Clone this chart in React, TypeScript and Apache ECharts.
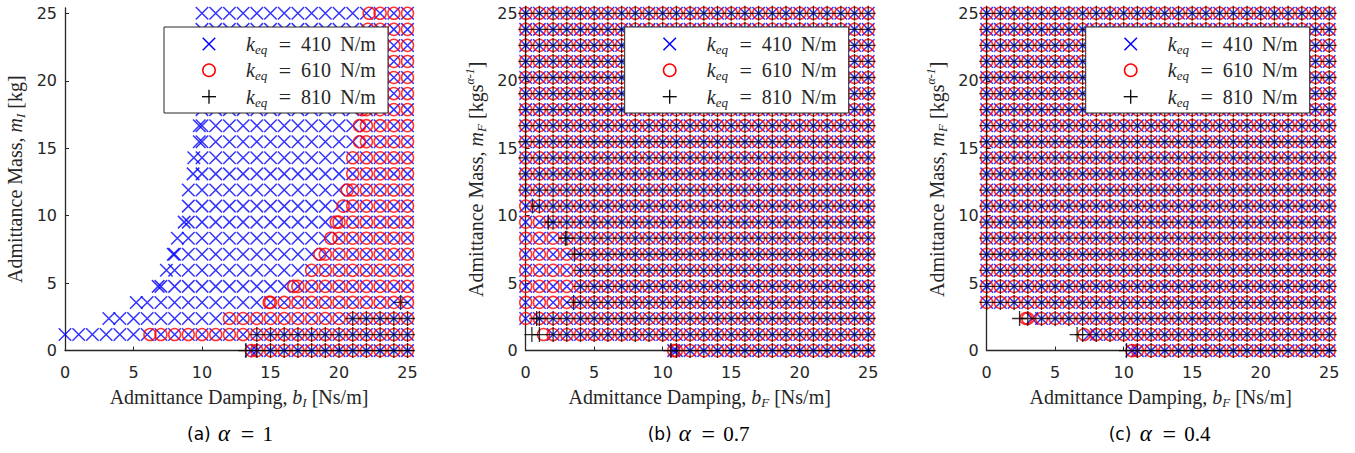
import React, { useEffect, useRef } from 'react';
import * as echarts from 'echarts';

// ---------- data ----------
// admittance mass levels (rows of the stability grid)
const MASS_LEVELS = [0, 1.19, 2.38, 3.57, 4.76, 5.95, 7.14, 8.33, 9.52, 10.71, 11.9, 13.1, 14.29, 15.48, 16.67, 17.86, 19.05, 20.24, 21.43, 22.62, 23.81, 25];
// admittance damping grid (columns)
const DAMPING_GRID = [0, 1, 2, 3, 4, 5, 6, 7, 8, 9, 10, 11, 12, 13, 14, 15, 16, 17, 18, 19, 20, 21, 22, 23, 24, 25];
const TICKS = [0, 5, 10, 15, 20, 25];
const K_EQ = ['410', '610', '810'];

// first stable damping value of each mass row (null = no stable point)
// (a) alpha = 1
const A_START_410 = [13.6, 0, 3.2, 5.2, 6.8, 7.4, 7.9, 8.2, 8.7, 9.0, 9.0, 9.35, 9.4, 9.8, 9.8, 10, 10, 10, 10, 10, 10, 10];
const A_START_610 = [13.6, 6.2, 12, 14.9, 16.7, 18, 18.6, 19.4, 19.8, 20.3, 20.6, 21, 21, 21.5, 21.5, 21.7, 21.8, 21.9, 22, 22.1, 22.1, 22.2];
const A_START_810 = [13.2, 14, 21, 24.5, null, null, null, null, null, null, null, null, null, null, null, null, null, null, null, null, null, null];
const A_END_810 = [25, 25, 25, 24.5, 25, 25, 25, 25, 25, 25, 25, 25, 25, 25, 25, 25, 25, 25, 25, 25, 25, 25];
// (b) alpha = 0.7
const B_START_410 = [10.8, 2, 0, 0, 0, 0, 0, 0, 0, 0, 0, 0, 0, 0, 0, 0, 0, 0, 0, 0, 0, 0];
const B_START_610 = [10.8, 1.3, 0, 0, 0, 0, 0, 0, 0, 0, 0, 0, 0, 0, 0, 0, 0, 0, 0, 0, 0, 0];
const B_START_810 = [10.6, 0.45, 0.8, 3.5, 4, 4, 3.55, 2.9, 1.65, 0.5, 0, 0, 0, 0, 0, 0, 0, 0, 0, 0, 0, 0];
// (c) alpha = 0.4
const C_START_410 = [10.6, 7.5, 3.3, 0, 0, 0, 0, 0, 0, 0, 0, 0, 0, 0, 0, 0, 0, 0, 0, 0, 0, 0];
const C_START_610 = [10.6, 7.1, 2.85, 0, 0, 0, 0, 0, 0, 0, 0, 0, 0, 0, 0, 0, 0, 0, 0, 0, 0, 0];
const C_START_810 = [10.2, 6.6, 2.4, 0, 0, 0, 0, 0, 0, 0, 0, 0, 0, 0, 0, 0, 0, 0, 0, 0, 0, 0];

// ---------- styling ----------
const INK = '#262626';
const SERIF = 'Liberation Serif, Times New Roman, serif';
const SANS = 'DejaVu Sans, sans-serif';
const X_PATH = 'path://M0,0L10,10M10,0L0,10';
const PLUS_PATH = 'path://M5,0L5,10M0,5L10,5';
const BLUE = '#0000ff';
const RED = '#ff0000';
const BLACK = '#000000';

const MARKERS = [
  { symbol: X_PATH, size: 12.5, itemStyle: { color: BLUE, borderColor: BLUE, borderWidth: 1.5 } },
  { symbol: 'circle', size: 12, itemStyle: { color: 'rgba(0,0,0,0)', borderColor: RED, borderWidth: 1.5 } },
  { symbol: PLUS_PATH, size: 15, itemStyle: { color: BLACK, borderColor: BLACK, borderWidth: 1.3 } },
];

const PANELS = [
  { left: 65, sub: 'I', unit: 'kg', starts: [A_START_410, A_START_610, A_START_810], ends: [null, null, A_END_810], cap: '(a)', alpha: '1' },
  { left: 525.7, sub: 'F', unit: 'frac', starts: [B_START_410, B_START_610, B_START_810], ends: [null, null, null], cap: '(b)', alpha: '0.7' },
  { left: 986.7, sub: 'F', unit: 'frac', starts: [C_START_410, C_START_610, C_START_810], ends: [null, null, null], cap: '(c)', alpha: '0.4' },
];

function buildPoints(starts: (number | null)[], ends: number[] | null) {
  const pts: number[][] = [];
  starts.forEach((s, i) => {
    if (s === null) return;
    const m = MASS_LEVELS[i];
    const e = ends ? ends[i] : 25;
    pts.push([s, m]);
    DAMPING_GRID.forEach((d) => {
      if (d > s + 1e-6 && d <= e + 1e-6) pts.push([d, m]);
    });
  });
  return pts;
}

const nameRich = {
  t: { fontFamily: SERIF, fontSize: 20, lineHeight: 24, color: INK },
  i: { fontFamily: SERIF, fontSize: 20, fontStyle: 'italic', lineHeight: 24, color: INK },
  s: { fontFamily: SERIF, fontSize: 13, fontStyle: 'italic', lineHeight: 13, verticalAlign: 'bottom', color: INK },
  p: { fontFamily: SERIF, fontSize: 12, fontStyle: 'italic', lineHeight: 12, verticalAlign: 'top', color: INK },
};

const legendRich = {
  k: { fontFamily: SERIF, fontSize: 20, fontStyle: 'italic', lineHeight: 24, width: 9, color: INK },
  s: { fontFamily: SERIF, fontSize: 13, fontStyle: 'italic', lineHeight: 13, verticalAlign: 'bottom', width: 18, color: INK },
  e: { fontFamily: SERIF, fontSize: 22, lineHeight: 24, width: 24, align: 'center', color: INK },
  n: { fontFamily: SERIF, fontSize: 20, lineHeight: 24, width: 38, align: 'center', color: INK },
  u: { fontFamily: SERIF, fontSize: 20, lineHeight: 24, width: 46, align: 'left', color: INK },
};

const capRich = {
  s: { fontFamily: SANS, fontSize: 17, width: 31, lineHeight: 26, color: '#000' },
  a: { fontFamily: SERIF, fontSize: 23, fontStyle: 'italic', width: 14.5, lineHeight: 26, color: '#000' },
  e: { fontFamily: SERIF, fontSize: 24, width: 30, align: 'center', lineHeight: 26, color: '#000' },
  n: { fontFamily: SERIF, fontSize: 21, lineHeight: 26, color: '#000' },
};

const TOP_Z = 100;

function legendIcon(si: number, cx: number, cy: number) {
  if (si === 0) {
    const h = 6.25;
    return [
      { type: 'line', z: TOP_Z, shape: { x1: cx - h, y1: cy - h, x2: cx + h, y2: cy + h }, style: { stroke: BLUE, lineWidth: 1.5 } },
      { type: 'line', z: TOP_Z, shape: { x1: cx - h, y1: cy + h, x2: cx + h, y2: cy - h }, style: { stroke: BLUE, lineWidth: 1.5 } },
    ];
  }
  if (si === 1) {
    return [{ type: 'circle', z: TOP_Z, shape: { cx, cy, r: 6.2 }, style: { fill: 'none', stroke: RED, lineWidth: 1.5 } }];
  }
  const h = 7;
  return [
    { type: 'line', z: TOP_Z, shape: { x1: cx - h, y1: cy, x2: cx + h, y2: cy }, style: { stroke: BLACK, lineWidth: 1.3 } },
    { type: 'line', z: TOP_Z, shape: { x1: cx, y1: cy - h, x2: cx, y2: cy + h }, style: { stroke: BLACK, lineWidth: 1.3 } },
  ];
}

function buildLegend(left: number) {
  const x0 = left + 99;
  const rowsY = [44, 70.3, 96.7];
  const els: any[] = [
    { type: 'rect', z: TOP_Z - 1, shape: { x: x0, y: 27, width: 224, height: 86 }, style: { fill: '#ffffff', stroke: INK, lineWidth: 1 } },
  ];
  K_EQ.forEach((k, si) => {
    const cy = rowsY[si];
    els.push(...legendIcon(si, left + 144, cy));
    els.push({
      type: 'text',
      z: TOP_Z,
      x: left + 181,
      y: cy,
      style: {
        text: `{k|k}{s|eq}{e|=}{n|${k}}{u|N/m}`,
        rich: legendRich,
        fontFamily: SERIF,
        fontSize: 20,
        fill: INK,
        verticalAlign: 'middle',
        align: 'left',
      },
    });
  });
  return els;
}

function buildOption() {
  const top = 7.9;
  const height = 342.7;
  const width = 348;
  const series: any[] = [];
  PANELS.forEach((p, gi) => {
    K_EQ.forEach((k, si) => {
      const mk = MARKERS[si];
      series.push({
        type: 'scatter',
        name: k,
        xAxisIndex: gi,
        yAxisIndex: gi,
        symbol: mk.symbol,
        symbolSize: mk.size,
        itemStyle: mk.itemStyle,
        data: buildPoints(p.starts[si], p.ends[si]),
        clip: false,
        silent: true,
        progressive: 0,
        z: 2 + si,
      });
    });
  });
  const graphic: any[] = [];
  PANELS.forEach((p) => {
    graphic.push(...buildLegend(p.left));
    graphic.push({
      type: 'text',
      x: p.left + 122,
      y: 433.5,
      z: TOP_Z,
      style: {
        text: `{s|${p.cap}}{a|α}{e|=}{n|${p.alpha}}`,
        rich: capRich,
        fontFamily: SERIF,
        fontSize: 21,
        fill: '#000',
        verticalAlign: 'middle',
        align: 'left',
      },
    });
  });
  return {
    animation: false,
    backgroundColor: '#ffffff',
    grid: PANELS.map((p) => ({ left: p.left, top, width, height, containLabel: false, outerBoundsMode: 'none' })),
    xAxis: PANELS.map((p, i) => ({
      gridIndex: i,
      type: 'value',
      min: 0,
      max: 25.4,
      name: `{t|Admittance Damping, }{i|b}{s|${p.sub}}{t| [Ns/m]}`,
      nameLocation: 'middle',
      nameGap: 34,
      nameTextStyle: { color: INK, fontFamily: SERIF, fontSize: 20, rich: nameRich },
      axisLine: { show: true, onZero: false, lineStyle: { color: INK, width: 1.3 } },
      axisTick: { show: true, inside: true, length: 4, customValues: TICKS, lineStyle: { color: INK, width: 1 } },
      axisLabel: { customValues: TICKS, margin: 14, fontFamily: SANS, fontSize: 16, color: INK },
      splitLine: { show: false },
    })),
    yAxis: PANELS.map((p, i) => ({
      gridIndex: i,
      type: 'value',
      min: 0,
      max: 25.4,
      name: p.unit === 'kg'
        ? `{t|Admittance Mass, }{i|m}{s|${p.sub}}{t| [kg]}`
        : `{t|Admittance Mass, }{i|m}{s|${p.sub}}{t| [kgs}{p|α-1}{t|]}`,
      nameLocation: 'middle',
      nameGap: 38,
      nameTextStyle: { color: INK, fontFamily: SERIF, fontSize: 20, rich: nameRich },
      axisLine: { show: true, onZero: false, lineStyle: { color: INK, width: 1.3 } },
      axisTick: { show: true, inside: true, length: 4, customValues: TICKS, lineStyle: { color: INK, width: 1 } },
      axisLabel: { customValues: TICKS, margin: 8, fontFamily: SANS, fontSize: 16, color: INK },
      splitLine: { show: false },
    })),
    graphic,
    series,
  };
}

export default function App() {
  const ref = useRef<HTMLDivElement>(null);
  useEffect(() => {
    if (!ref.current) return;
    const chart = echarts.init(ref.current, null, { renderer: 'svg' });
    chart.setOption(buildOption() as any);
    return () => chart.dispose();
  }, []);
  return (
    <div
      ref={ref}
      style={{ position: 'absolute', left: 0, top: 0, width: 1355, height: 453, background: '#fff' }}
    />
  );
}
